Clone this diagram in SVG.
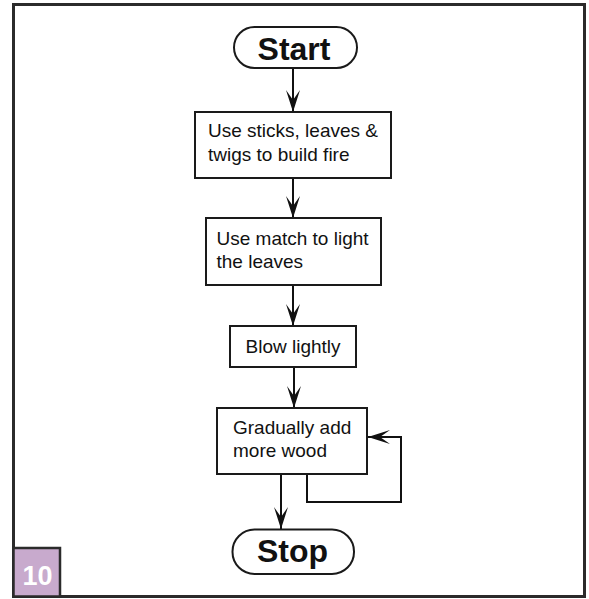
<svg xmlns="http://www.w3.org/2000/svg" width="589" height="599" viewBox="0 0 589 599">
<defs>
<style>
.box{fill:#fff;stroke:#1a1a1a;stroke-width:2}
.t{font-family:"Liberation Sans",Arial,Helvetica,sans-serif;font-size:19px;fill:#111}
.term{font-family:"Liberation Sans",Arial,Helvetica,sans-serif;font-size:32px;font-weight:bold;fill:#111;text-anchor:middle}
.conn{fill:none;stroke:#111;stroke-width:2}
</style>
<marker id="arr" viewBox="-23 -8 24 16" refX="0" refY="0" markerWidth="24" markerHeight="16" markerUnits="userSpaceOnUse" orient="auto">
<path d="M0,0 L-22,-7 L-12,0 L-22,7 Z" fill="#111"/>
</marker>
</defs>
<rect x="0" y="0" width="589" height="599" fill="#fff"/>
<rect x="13.5" y="4.5" width="571" height="592" fill="#fff" stroke="#2b2b2b" stroke-width="3"/>
<g id="badge">
<rect x="13.5" y="548" width="46.5" height="48.5" fill="#c8aacd" stroke="#2b2b2b" stroke-width="2.5"/>
<text x="37.5" y="584.5" font-family="Liberation Sans,Arial,sans-serif" font-size="27" font-weight="bold" fill="#fff" text-anchor="middle">10</text>
</g>
<g id="connectors">
<line class="conn" x1="293" y1="68" x2="293" y2="112" marker-end="url(#arr)"/>
<line class="conn" x1="293" y1="178" x2="293" y2="218" marker-end="url(#arr)"/>
<line class="conn" x1="293" y1="285" x2="293" y2="326" marker-end="url(#arr)"/>
<line class="conn" x1="294" y1="367" x2="294" y2="408" marker-end="url(#arr)"/>
<line class="conn" x1="281" y1="474" x2="281" y2="529" marker-end="url(#arr)"/>
<path class="conn" d="M307,474 V502 H401 V437 H368" marker-end="url(#arr)"/>
</g>
<g id="start">
<rect class="box" x="234" y="27" width="123" height="41" rx="20.5"/>
<text class="term" x="294" y="59.5">Start</text>
</g>
<g id="build">
<rect class="box" x="195" y="112" width="196" height="66"/>
<text class="t" x="208" y="137">Use sticks, leaves &amp;</text>
<text class="t" x="208" y="161">twigs to build fire</text>
</g>
<g id="light">
<rect class="box" x="206" y="218" width="175" height="67"/>
<text class="t" x="216.5" y="245">Use match to light</text>
<text class="t" x="216.5" y="268">the leaves</text>
</g>
<g id="blow">
<rect class="box" x="230" y="326" width="126" height="41"/>
<text class="t" x="245.5" y="352.5">Blow lightly</text>
</g>
<g id="wood">
<rect class="box" x="217" y="408" width="150" height="66"/>
<text class="t" x="233" y="433.5">Gradually add</text>
<text class="t" x="233" y="457">more wood</text>
</g>
<g id="stop">
<rect class="box" x="232.5" y="529.5" width="121.5" height="44.5" rx="22"/>
<text class="term" x="292.5" y="562">Stop</text>
</g>
</svg>
